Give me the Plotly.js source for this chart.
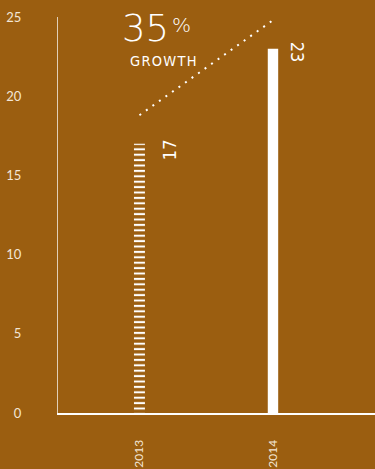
<!DOCTYPE html>
<html>
<head>
<meta charset="utf-8">
<script src="https://cdn.plot.ly/plotly-3.0.1.min.js"></script>
<style>
  html, body { margin: 0; padding: 0; background: #9b5e10; }
  #chart { width: 375px; height: 469px; }
  /* condensed face for the headline and value labels */
  .annotation-text { font-stretch: condensed !important; }
</style>
</head>
<body>
<div id="chart"></div>
<script>
// Yearly totals
const years = ["2013", "2014"];
const values = [17, 23];
// Dotted growth line running above the two bars
const trendY = [18.8, 24.8];
const yTicks = [0, 5, 10, 15, 20, 25];

const bg = "#9b5e10";
const ink = "#ffffff";
const yTickFont = { family: "Lato, 'DejaVu Sans', sans-serif", size: 13, color: "#f3e6d6" };
const xTickFont = { family: "Lato, 'DejaVu Sans', sans-serif", size: 12, color: "#f3e6d6" };
const narrow = "'DejaVu Sans', sans-serif";

const growthPct = Math.round((values[1] / values[0] - 1) * 100);

const traces = [
  {
    type: "bar",
    x: [years[0]],
    y: [values[0]],
    width: 0.082,
    marker: {
      color: "rgba(0,0,0,0)",
      line: { width: 0 },
      pattern: { shape: "-", fgcolor: ink, bgcolor: "rgba(0,0,0,0)", size: 5.4, solidity: 0.38, fillmode: "replace" }
    },
    hoverinfo: "skip"
  },
  {
    type: "bar",
    x: [years[1]],
    y: [values[1]],
    width: 0.078,
    marker: { color: ink, line: { width: 0 } },
    hoverinfo: "skip"
  },
  {
    type: "scatter",
    mode: "lines",
    x: years,
    y: trendY,
    line: { color: ink, width: 2, dash: "2px,6px" },
    hoverinfo: "skip"
  }
];

const annotations = [
  {
    x: 0, y: values[0], xref: "x", yref: "y",
    text: String(values[0]), showarrow: false, textangle: -90,
    xanchor: "center", yanchor: "middle",
    xshift: 30, yshift: -6,
    font: { family: narrow, size: 18, color: ink }
  },
  {
    x: 1, y: values[1], xref: "x", yref: "y",
    text: String(values[1]), showarrow: false, textangle: 90,
    xanchor: "center", yanchor: "middle",
    xshift: 24, yshift: -4,
    font: { family: narrow, size: 18, color: ink }
  },
  {
    // headline growth figure
    x: 0.3533, y: 0.972, xref: "paper", yref: "paper",
    xanchor: "right", yanchor: "middle",
    text: String(growthPct), showarrow: false,
    borderpad: 0,
    font: { family: narrow, size: 37, color: ink, weight: 300 }
  },
  {
    x: 0.3565, y: 0.981, xref: "paper", yref: "paper",
    xanchor: "left", yanchor: "middle",
    text: "%", showarrow: false,
    borderpad: 0,
    font: { family: narrow, size: 20, color: ink, weight: 300 }
  },
  {
    x: 0.2208, y: 0.890, xref: "paper", yref: "paper",
    xanchor: "left", yanchor: "middle",
    text: "G\u200AR\u200AO\u200AW\u200AT\u200AH", showarrow: false,
    font: { family: narrow, size: 14.5, color: ink }
  }
];

const layout = {
  width: 375,
  height: 469,
  margin: { l: 58, r: 0, t: 17, b: 56 },
  paper_bgcolor: bg,
  plot_bgcolor: bg,
  showlegend: false,
  barmode: "overlay",
  xaxis: {
    type: "category",
    range: [-0.61, 1.764],
    showline: true,
    linecolor: ink,
    linewidth: 2,
    showgrid: false,
    zeroline: false,
    ticks: "",
    tickangle: -90,
    ticklabelstandoff: 20,
    tickfont: xTickFont,
    fixedrange: true
  },
  yaxis: {
    range: [0, 25],
    tickvals: yTicks,
    ticktext: yTicks.map(String),
    showline: true,
    linecolor: "rgba(255,255,255,0.7)",
    linewidth: 1,
    showgrid: false,
    zeroline: false,
    ticks: "",
    ticklabelstandoff: 33,
    tickfont: yTickFont,
    fixedrange: true
  },
  annotations: annotations
};

Plotly.newPlot("chart", traces, layout, { displayModeBar: false, staticPlot: true });
</script>
</body>
</html>
